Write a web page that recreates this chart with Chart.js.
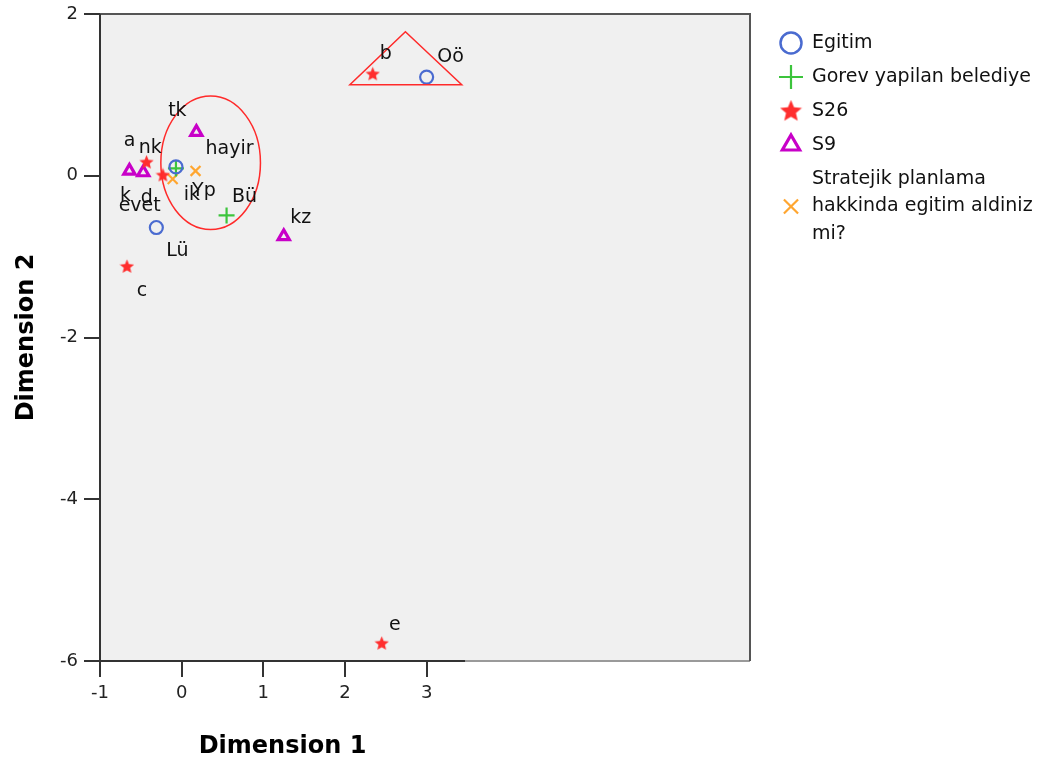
<!DOCTYPE html>
<html>
<head>
<meta charset="utf-8">
<script src="https://cdn.jsdelivr.net/npm/chart.js@4.4.1/dist/chart.umd.min.js"></script>
<style>
html, body { margin: 0; padding: 0; background: #fff; }
#wrap { width: 1038px; height: 758px; position: relative; }
</style>
</head>
<body>
<div id="wrap"><canvas id="grafico"></canvas></div>
<script>
// Egitim
const egitimEtiket = ["Oö", "ik", "Lü"];
const egitimX = [3.0, -0.07, -0.31];
const egitimY = [1.22, 0.11, -0.64];

// Gorev yapilan belediye
const gorevEtiket = ["Yp", "Bü"];
const gorevX = [-0.07, 0.55];
const gorevY = [0.09, -0.49];

// S26
const s26Etiket = ["a", "b", "c", "d", "e"];
const s26X = [-0.43, 2.34, -0.67, -0.23, 2.45];
const s26Y = [0.17, 1.26, -1.12, 0.01, -5.78];

// S9
const s9Etiket = ["nk", "k", "tk", "kz"];
const s9X = [-0.47, -0.64, 0.18, 1.25];
const s9Y = [0.04, 0.06, 0.54, -0.75];

// Stratejik planlama hakkinda egitim aldiniz mi?
const planEtiket = ["evet", "hayir"];
const planX = [-0.11, 0.17];
const planY = [-0.04, 0.06];

const xTicks = [-1, 0, 1, 2, 3];
const yTicks = [-6, -4, -2, 0, 2];

// desplazamiento de las etiquetas (px)
const desplazamientos = [
    [[24, -20], [16, 28], [21, 24]],
    [[28, 23], [18, -18]],
    [[-17, -21], [13, -20], [15, 25], [-16, 23], [13, -18]],
    [[7, -24], [-4, 25], [-19, -21], [17, -18]],
    [[-33, 27], [34, -22]]
];

const fuente = "'DejaVu Sans', sans-serif";
const colores = ["#4a6bd0", "#3cc43c", "#ff2e2e", "#c800c8", "#ffa630"];

function estrella(tam, color) {
    const c = document.createElement("canvas");
    c.width = tam; c.height = tam;
    const g = c.getContext("2d");
    const r = tam / 2, ri = r * 0.45;
    g.beginPath();
    for (let i = 0; i < 10; i++) {
        const ang = -Math.PI / 2 + i * Math.PI / 5;
        const rr = i % 2 === 0 ? r : ri;
        g.lineTo(r + rr * Math.cos(ang), r + 0.5 + rr * Math.sin(ang));
    }
    g.closePath();
    g.fillStyle = color;
    g.fill();
    return c;
}

const estrellaChica = estrella(15, colores[2]);
const estrellaGrande = estrella(23, colores[2]);

function puntos(xs, ys) {
    return xs.map((x, i) => ({ x: x, y: ys[i] }));
}

const series = [
    { label: "Egitim", data: puntos(egitimX, egitimY), etiquetas: egitimEtiket, pointStyle: "circle", pointRadius: 6.5, borderWidth: 2.2 },
    { label: "Gorev yapilan belediye", data: puntos(gorevX, gorevY), etiquetas: gorevEtiket, pointStyle: "cross", pointRadius: 8, borderWidth: 2.2 },
    { label: "S26", data: puntos(s26X, s26Y), etiquetas: s26Etiket, pointStyle: estrellaChica, pointRadius: 7, borderWidth: 0 },
    { label: "S9", data: puntos(s9X, s9Y), etiquetas: s9Etiket, pointStyle: "triangle", pointRadius: 6.5, borderWidth: 3.2 },
    { label: "Stratejik planlama hakkinda egitim aldiniz mi?", data: puntos(planX, planY), etiquetas: planEtiket, pointStyle: "crossRot", pointRadius: 7, borderWidth: 2.2 }
];

// leyenda
const leyenda = [
    { lineas: ["Egitim"], estilo: "circle", radio: 10.5, borde: 2.5 },
    { lineas: ["Gorev yapilan belediye"], estilo: "cross", radio: 12, borde: 2.2 },
    { lineas: ["S26"], estilo: estrellaGrande, radio: 11, borde: 0 },
    { lineas: ["S9"], estilo: "triangle", radio: 10, borde: 3.2 },
    { lineas: ["Stratejik planlama", "hakkinda egitim aldiniz", "mi?"], estilo: "crossRot", radio: 10, borde: 2.2 }
];

const dibujoExtra = {
    id: "dibujoExtra",
    beforeDraw(chart) {
        const { ctx, chartArea: a } = chart;
        ctx.save();
        ctx.fillStyle = "#f0f0f0";
        ctx.fillRect(a.left, a.top, a.right - a.left, a.bottom - a.top);
        ctx.restore();
    },
    afterDatasetsDraw(chart) {
        const { ctx, chartArea: a, scales } = chart;
        const sx = scales.x, sy = scales.y;
        ctx.save();

        // marco
        ctx.lineWidth = 2;
        ctx.strokeStyle = "#9a9a9a";
        ctx.beginPath();
        ctx.moveTo(a.left, a.bottom);
        ctx.lineTo(a.right, a.bottom);
        ctx.stroke();
        ctx.strokeStyle = "#555";
        ctx.beginPath();
        ctx.moveTo(a.left, a.top);
        ctx.lineTo(a.right, a.top);
        ctx.lineTo(a.right, a.bottom);
        ctx.stroke();
        ctx.strokeStyle = "#333";
        ctx.beginPath();
        ctx.moveTo(a.left, a.top);
        ctx.lineTo(a.left, a.bottom);
        ctx.moveTo(a.left, a.bottom);
        ctx.lineTo(sx.getPixelForValue(3.47), a.bottom);
        ctx.stroke();

        // elipse y triangulo
        ctx.strokeStyle = "#ff2a2a";
        ctx.lineWidth = 1.5;
        const cx = sx.getPixelForValue(0.355), cy = sy.getPixelForValue(0.16);
        const rx = sx.getPixelForValue(0.355 + 0.61) - cx;
        const ry = cy - sy.getPixelForValue(0.16 + 0.825);
        ctx.beginPath();
        ctx.ellipse(cx, cy, rx, ry, 0, 0, Math.PI * 2);
        ctx.stroke();
        ctx.beginPath();
        ctx.moveTo(sx.getPixelForValue(2.06), sy.getPixelForValue(1.125));
        ctx.lineTo(sx.getPixelForValue(3.43), sy.getPixelForValue(1.125));
        ctx.lineTo(sx.getPixelForValue(2.74), sy.getPixelForValue(1.78));
        ctx.closePath();
        ctx.stroke();

        // etiquetas de los puntos
        ctx.fillStyle = "#111";
        ctx.font = "19px " + fuente;
        ctx.textAlign = "center";
        ctx.textBaseline = "middle";
        chart.data.datasets.forEach((ds, i) => {
            const meta = chart.getDatasetMeta(i);
            meta.data.forEach((p, j) => {
                const d = desplazamientos[i][j];
                ctx.fillText(ds.etiquetas[j], p.x + d[0], p.y + d[1]);
            });
        });

        // titulos de los ejes
        ctx.font = "bold 24px " + fuente;
        ctx.fillStyle = "#000";
        ctx.textBaseline = "alphabetic";
        ctx.fillText("Dimension 1", (a.left + sx.getPixelForValue(3.47)) / 2, 753);
        ctx.translate(33, (a.top + a.bottom) / 2);
        ctx.rotate(-Math.PI / 2);
        ctx.fillText("Dimension 2", 0, 0);
        ctx.restore();

        // leyenda
        ctx.save();
        ctx.font = "19px " + fuente;
        ctx.textAlign = "left";
        ctx.textBaseline = "middle";
        let y = 43;
        leyenda.forEach((item, i) => {
            const n = item.lineas.length;
            const ym = y + (n - 1) * 27.5 / 2;
            ctx.strokeStyle = colores[i];
            ctx.fillStyle = "rgba(0,0,0,0)";
            ctx.lineWidth = item.borde;
            Chart.helpers.drawPoint(ctx, { pointStyle: item.estilo, radius: item.radio, borderWidth: item.borde, rotation: 0 }, 791, ym);
            ctx.fillStyle = "#111";
            item.lineas.forEach((t, k) => ctx.fillText(t, 812, y + k * 27.5));
            y += 34 + (n - 1) * 27.5;
        });
        ctx.restore();
    }
};

new Chart(document.getElementById("grafico"), {
    type: "scatter",
    data: {
        datasets: series.map((s, i) => ({
            label: s.label,
            data: s.data,
            etiquetas: s.etiquetas,
            pointStyle: s.pointStyle,
            pointRadius: s.pointRadius,
            pointHoverRadius: s.pointRadius,
            borderWidth: s.borderWidth,
            borderColor: colores[i],
            backgroundColor: "rgba(0,0,0,0)"
        }))
    },
    options: {
        responsive: true,
        maintainAspectRatio: false,
        animation: false,
        layout: { padding: { left: 0, top: 14, right: 288, bottom: 0 } },
        plugins: { legend: { display: false }, tooltip: { enabled: false } },
        scales: {
            x: {
                type: "linear",
                min: -1,
                max: 6.96,
                afterBuildTicks: (scale) => { scale.ticks = xTicks.map(v => ({ value: v })); },
                afterFit: (scale) => { scale.height = 97; scale.paddingLeft = 0; scale.paddingRight = 0; },
                grid: { drawOnChartArea: false, drawTicks: true, tickLength: 16, color: "#333", lineWidth: 2 },
                border: { display: false },
                ticks: { color: "#222", font: { family: fuente, size: 18 }, padding: 6, maxRotation: 0 }
            },
            y: {
                type: "linear",
                min: -6,
                max: 2,
                afterBuildTicks: (scale) => { scale.ticks = yTicks.map(v => ({ value: v })); },
                afterFit: (scale) => { scale.width = 100; scale.paddingTop = 0; scale.paddingBottom = 0; },
                grid: { drawOnChartArea: false, drawTicks: true, tickLength: 16, color: "#333", lineWidth: 2 },
                border: { display: false },
                ticks: { color: "#222", font: { family: fuente, size: 18 }, padding: 6 }
            }
        }
    },
    plugins: [dibujoExtra]
});
</script>
</body>
</html>
